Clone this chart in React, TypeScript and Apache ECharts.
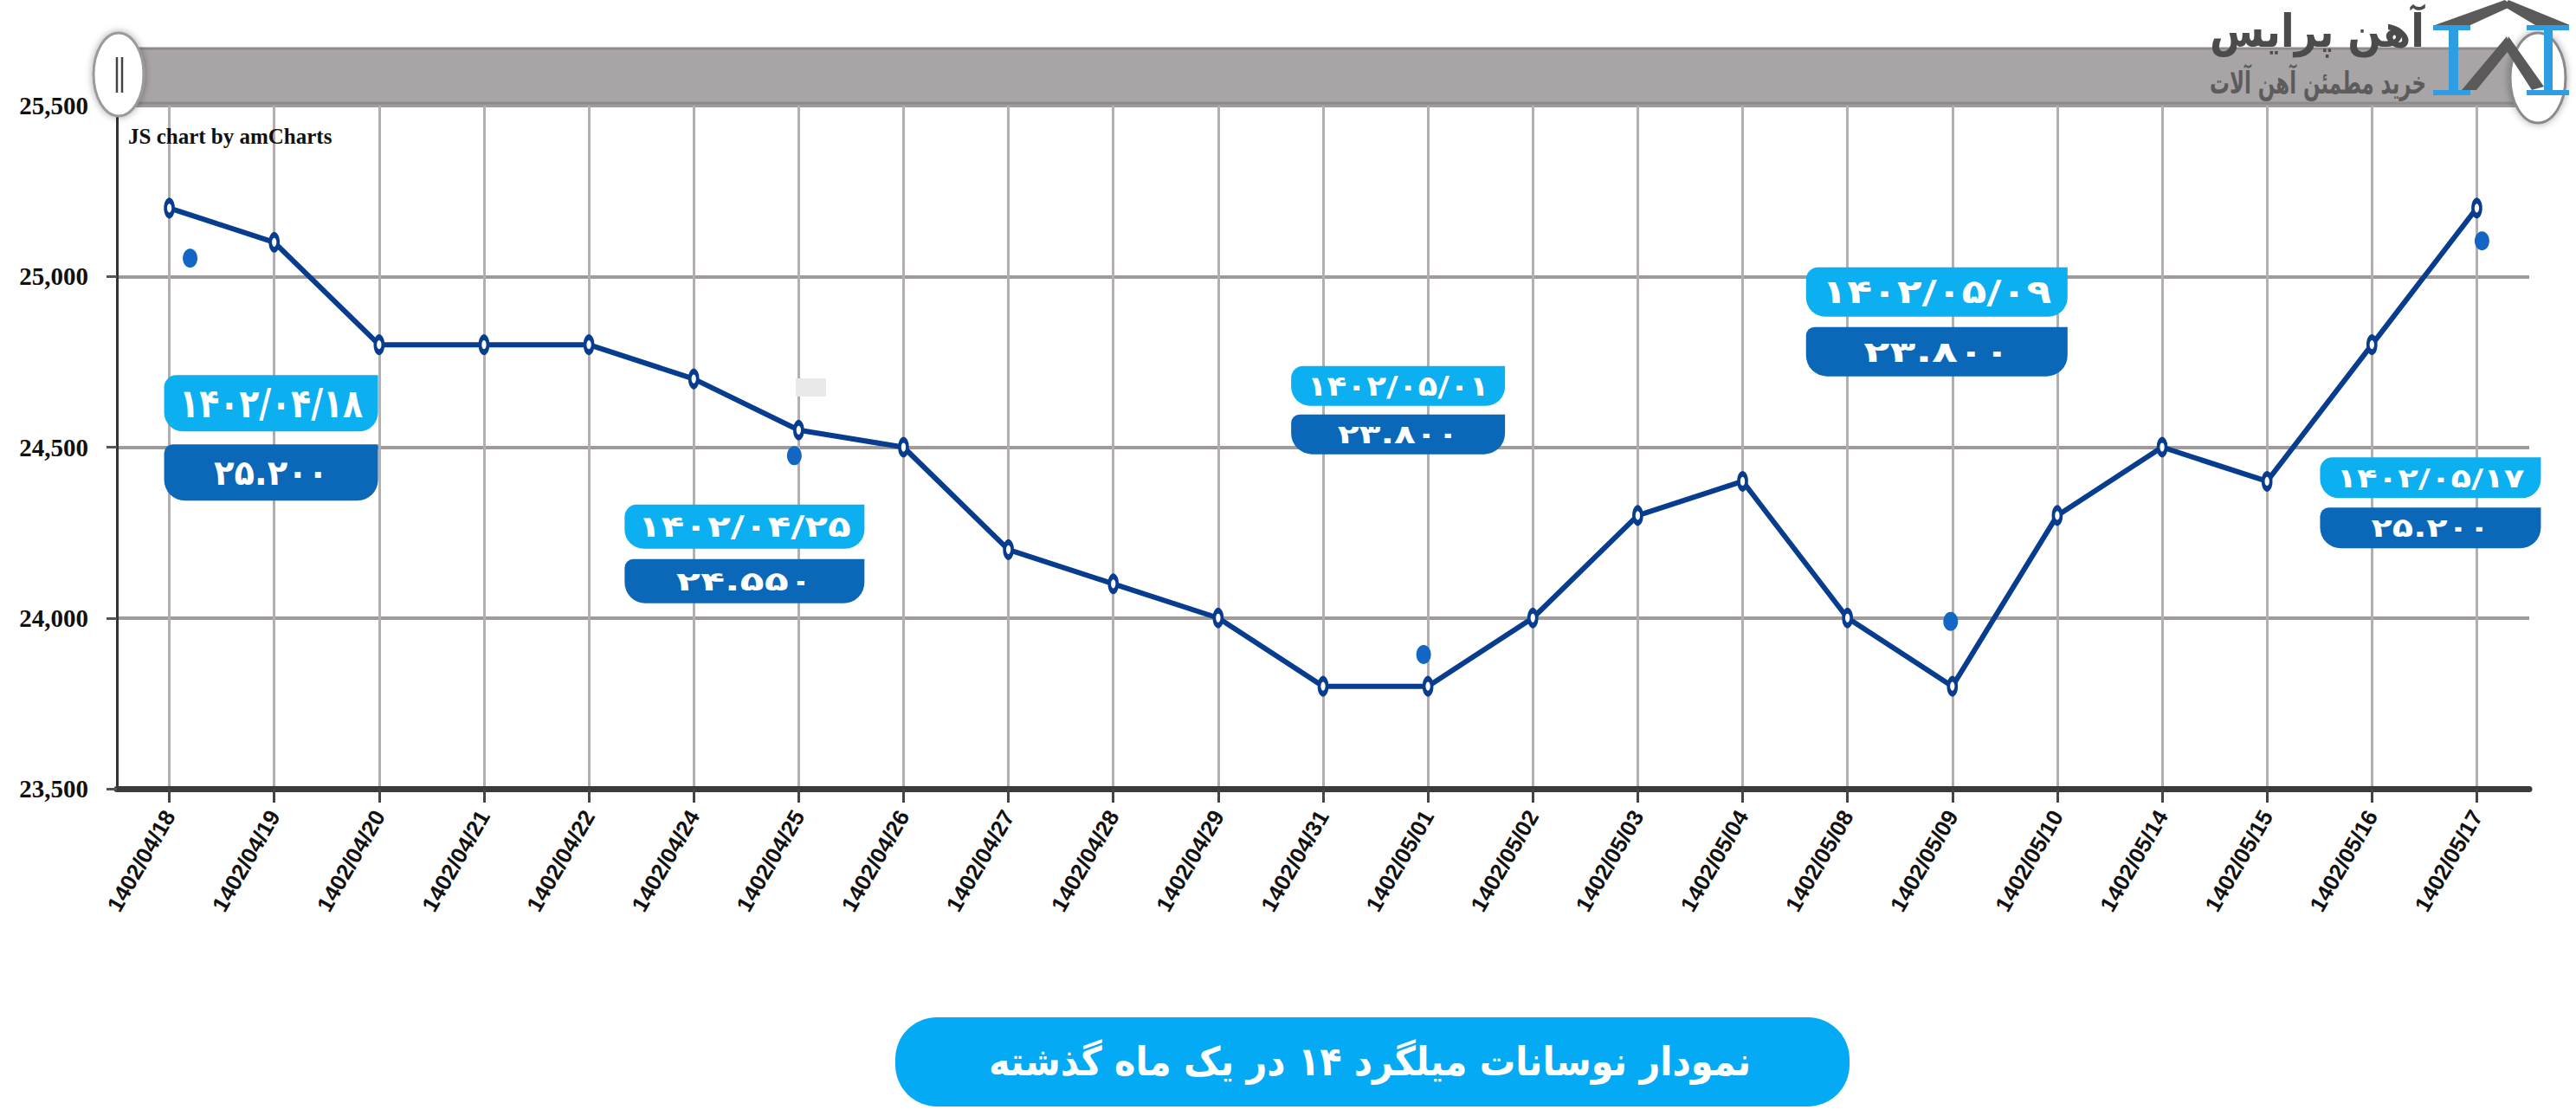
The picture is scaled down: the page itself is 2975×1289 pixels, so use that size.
import React, { useEffect, useRef } from "react";
import * as echarts from "echarts";

// ---------- data ----------
const categories = [
  "1402/04/18", "1402/04/19", "1402/04/20", "1402/04/21", "1402/04/22", "1402/04/24",
  "1402/04/25", "1402/04/26", "1402/04/27", "1402/04/28", "1402/04/29", "1402/04/31",
  "1402/05/01", "1402/05/02", "1402/05/03", "1402/05/04", "1402/05/08", "1402/05/09",
  "1402/05/10", "1402/05/14", "1402/05/15", "1402/05/16", "1402/05/17",
];
const prices = [
  25200, 25100, 24800, 24800, 24800, 24700, 24550, 24500, 24200, 24100, 24000, 23800,
  23800, 24000, 24300, 24400, 24000, 23800, 24300, 24500, 24400, 24800, 25200,
];
const yMin = 23500;
const yMax = 25500;
const yStep = 500;

// stray blue dots in the source picture
const dotCategoryIndex = [0, 6, 12, 17, 22];
const dotValues = [25053, 24475, 23893, 23990, 25104];

// callouts
const calloutIndex = [0, 6, 12, 17, 22];
const calloutDates = ["۱۴۰۲/۰۴/۱۸", "۱۴۰۲/۰۴/۲۵", "۱۴۰۲/۰۵/۰۱", "۱۴۰۲/۰۵/۰۹", "۱۴۰۲/۰۵/۱۷"];
const calloutValues = ["۲۵.۲۰۰", "۲۴.۵۵۰", "۲۳.۸۰۰", "۲۳.۸۰۰", "۲۵.۲۰۰"];

const titleText = "نمودار نوسانات میلگرد ۱۴ در یک ماه گذشته";
const brandText = "آهن پرایس";
const brandSub = "خرید مطمئن آهن آلات";
const creditText = "JS chart by amCharts";

// ---------- layout (pixels) ----------
const W = 2975;
const H = 1289;
const dotOffsetX = [24, -5, -5, -2, 6];
const calloutLayout = [
  { dx: -6, dy: 193, w: 247, h: 65, gap: 15, fd: 46, fv: 40, wd: 212, wv: 132 },
  { dx: -201, dy: 86, w: 277, h: 51, gap: 12, fd: 34, fv: 30, wd: 246, wv: 158 },
  { dx: -158, dy: -370, w: 247, h: 46, gap: 10, fd: 32, fv: 30, wd: 210, wv: 140 },
  { dx: -169, dy: -484, w: 302, h: 57, gap: 12, fd: 38, fv: 33, wd: 265, wv: 169 },
  { dx: -181, dy: 288, w: 255, h: 47, gap: 11, fd: 31, fv: 30, wd: 217, wv: 137 },
];

const NAVY = "#083c8e";
const LIGHT = "#0caff0";
const DARK = "#0b67b7";
const PFONT = '"DejaVu Sans", sans-serif';

let measureCtx: CanvasRenderingContext2D | null = null;
function fitScale(text: string, font: string, target: number): number {
  if (!measureCtx) measureCtx = document.createElement("canvas").getContext("2d");
  if (!measureCtx) return 1;
  measureCtx.font = font;
  const w = measureCtx.measureText(text).width;
  return w > 0 ? target / w : 1;
}

function fitText(text: string, cx: number, cy: number, px: number, target: number, fill: string, z: number) {
  const font = `bold ${px}px ${PFONT}`;
  return {
    type: "text",
    z,
    x: cx,
    y: cy,
    scaleX: fitScale(text, font, target),
    style: {
      text,
      font,
      fill,
      align: "center",
      verticalAlign: "middle",
      textAlign: "center",
      textVerticalAlign: "middle",
    },
  };
}

export default function App() {
  const ref = useRef<HTMLDivElement>(null);
  useEffect(() => {
    document.body.style.margin = "0";
    const chart = echarts.init(ref.current!, null, { renderer: "svg" });
    chart.setOption({
      animation: false,
      backgroundColor: "#ffffff",
      grid: { left: 135, right: 54, top: 122, bottom: 378, containLabel: false },
      xAxis: {
        type: "category",
        data: categories,
        boundaryGap: true,
        axisLine: { show: true, lineStyle: { color: "#3a3a3a", width: 7 } },
        axisTick: { show: true, alignWithLabel: true, interval: 0, length: 16, lineStyle: { color: "#444", width: 3 } },
        axisLabel: {
          interval: 0,
          rotate: 60,
          margin: 27,
          fontFamily: '"Liberation Sans Narrow", "Liberation Sans", Arial, sans-serif',
          fontWeight: "bold",
          fontSize: 26,
          color: "#111",
        },
        splitLine: { show: true, alignWithLabel: true, interval: 0, lineStyle: { color: "#b3afb0", width: 3 } },
      },
      yAxis: {
        type: "value",
        min: yMin,
        max: yMax,
        interval: yStep,
        axisLine: { show: true, lineStyle: { color: "#333", width: 3 } },
        axisTick: { show: true, length: 12, lineStyle: { color: "#555", width: 3 } },
        axisLabel: {
          formatter: (v: number) => v.toLocaleString("en-US"),
          fontFamily: '"Liberation Serif", serif',
          fontWeight: "bold",
          fontSize: 29,
          color: "#111",
          margin: 33,
          padding: [14, 0, 0, 0],
        },
        splitLine: { show: true, lineStyle: { color: "#9f9b9c", width: 4 } },
      },
      series: [
        {
          type: "line",
          data: prices,
          z: 3,
          symbol: "circle",
          symbolSize: [9, 17],
          lineStyle: { color: NAVY, width: 6 },
          itemStyle: { color: "#ffffff", borderColor: NAVY, borderWidth: 5 },
        },
        {
          type: "scatter",
          z: 4,
          symbolSize: [17, 22],
          itemStyle: { color: "#1366c3", opacity: 1 },
          data: dotCategoryIndex.map((c, i) => ({
            value: [c, dotValues[i]],
            symbolOffset: [dotOffsetX[i], 0],
          })),
        },
      ],
    });

    const g: any[] = [];
    // scrollbar band
    g.push({ type: "rect", z: 5, shape: { x: 150, y: 55, width: 2790, height: 65 }, style: { fill: "#a9a5a6" } });
    g.push({ type: "line", z: 5, shape: { x1: 150, y1: 56, x2: 2940, y2: 56 }, style: { stroke: "#8f8b8c", lineWidth: 3 } });
    g.push({ type: "line", z: 5, shape: { x1: 150, y1: 119, x2: 2940, y2: 119 }, style: { stroke: "#8f8b8c", lineWidth: 3 } });
    // handles
    g.push({
      type: "ellipse", z: 6, shape: { cx: 137, cy: 86, rx: 29, ry: 48 },
      style: { fill: "#ffffff", stroke: "#9a9a9a", lineWidth: 3, shadowBlur: 8, shadowColor: "rgba(0,0,0,0.35)" },
    });
    g.push({ type: "line", z: 7, shape: { x1: 135, y1: 66, x2: 135, y2: 107 }, style: { stroke: "#444", lineWidth: 2.5 } });
    g.push({ type: "line", z: 7, shape: { x1: 141, y1: 66, x2: 141, y2: 107 }, style: { stroke: "#444", lineWidth: 2.5 } });
    g.push({
      type: "ellipse", z: 6, shape: { cx: 2931, cy: 90, rx: 32, ry: 52 },
      style: { fill: "#ffffff", stroke: "#8a8a8a", lineWidth: 3, shadowBlur: 8, shadowColor: "rgba(0,0,0,0.35)" },
    });
    // credit
    g.push({
      type: "text", z: 7, x: 148, y: 157,
      style: { text: creditText, font: 'bold 25px "Liberation Serif", serif', fill: "#111", align: "left", verticalAlign: "middle", textAlign: "left", textVerticalAlign: "middle" },
    });
    // logo
    const blue = "#2f9de2";
    const gray = "#5a5a5a";
    const ibeam = (x0: number, x1: number, wx0: number, wx1: number) => [
      { type: "rect", z: 9, shape: { x: x0, y: 29, width: x1 - x0, height: 6 }, style: { fill: blue } },
      { type: "rect", z: 9, shape: { x: wx0, y: 34, width: wx1 - wx0, height: 71 }, style: { fill: blue } },
      { type: "rect", z: 9, shape: { x: x0, y: 104, width: x1 - x0, height: 6 }, style: { fill: blue } },
    ];
    g.push(...ibeam(2810, 2853, 2828, 2839));
    g.push(...ibeam(2918, 2967, 2938, 2948));
    g.push({ type: "polygon", z: 8, shape: { points: [[2893, 0], [2901, 7], [2853, 29], [2812, 29]] }, style: { fill: gray } });
    g.push({ type: "polygon", z: 8, shape: { points: [[2897, 0], [2968, 29], [2928, 29], [2891, 7]] }, style: { fill: gray } });
    g.push({ type: "polygon", z: 8, shape: { points: [[2895, 42], [2843, 104], [2860, 104], [2899, 56]] }, style: { fill: gray } });
    g.push({ type: "polygon", z: 8, shape: { points: [[2897, 42], [2938, 100], [2924, 104], [2893, 56]] }, style: { fill: gray } });
    g.push(fitText(brandText, 2676, 36, 52, 248, "#4b4b4b", 9));
    g.push(fitText(brandSub, 2677, 95, 36, 250, "#5c5c5c", 9));
    // small artifact patch
    g.push({ type: "rect", z: 5, shape: { x: 919, y: 437, width: 35, height: 21 }, style: { fill: "#e9e9e9" } });

    // callouts
    calloutIndex.forEach((ci, i) => {
      const p = chart.convertToPixel({ gridIndex: 0 }, [ci, prices[ci]]) as number[];
      const L = calloutLayout[i];
      const x = p[0] + L.dx;
      const y = p[1] + L.dy;
      g.push({ type: "rect", z: 10, shape: { x, y, width: L.w, height: L.h, r: [14, 0, 22, 22] }, style: { fill: LIGHT } });
      g.push(fitText(calloutDates[i], x + L.w / 2, y + L.h / 2, L.fd, L.wd, "#ffffff", 11));
      const y2 = y + L.h + L.gap;
      g.push({ type: "rect", z: 10, shape: { x, y: y2, width: L.w, height: L.h, r: [10, 0, 24, 24] }, style: { fill: DARK } });
      g.push(fitText(calloutValues[i], x + L.w / 2, y2 + L.h / 2, L.fv, L.wv, "#ffffff", 11));
    });

    // title pill
    g.push({ type: "rect", z: 10, shape: { x: 1034, y: 1175, width: 1102, height: 103, r: 48 }, style: { fill: "#04abf4" } });
    g.push(fitText(titleText, 1582, 1226, 46, 880, "#ffffff", 11));

    chart.setOption({ graphic: g });
    return () => chart.dispose();
  }, []);
  return <div ref={ref} style={{ width: W, height: H }} />;
}
